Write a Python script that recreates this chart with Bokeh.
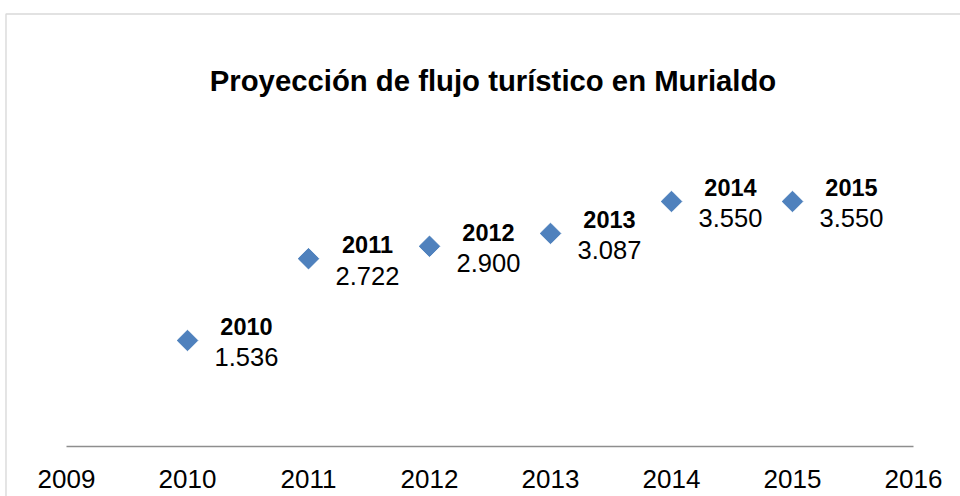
import math
from bokeh.plotting import figure
from bokeh.models import (ColumnDataSource, LinearAxis, FixedTicker, Range1d,
                          Label, BoxAnnotation)
from bokeh.core.properties import value
from bokeh.embed import file_html
from bokeh.resources import INLINE

# ---- data ----
title_text = "Proyección de flujo turístico en Murialdo"
years = [2010, 2011, 2012, 2013, 2014, 2015]
tourists = [1536, 2722, 2900, 3087, 3550, 3550]
tick_years = [2009, 2010, 2011, 2012, 2013, 2014, 2015, 2016]

value_labels = [f"{v:,}".replace(",", ".") for v in tourists]
year_labels = [str(y) for y in years]

W, H = 960, 496
# layout of the plot area in pixels (styles)
X_LEFT_PX, X_STEP_PX = 66.0, 121.0      # pixel of first tick, pixels per year
Y_ZERO_PX, Y_SCALE = 446.0, 139.0 / 2014.0  # pixel of zero, pixels per unit

x0 = tick_years[0] - X_LEFT_PX / X_STEP_PX
x1 = tick_years[0] + (W - X_LEFT_PX) / X_STEP_PX
y1 = Y_ZERO_PX / Y_SCALE
y0 = -(H - Y_ZERO_PX) / Y_SCALE


def px2x(px):
    return x0 + px / X_STEP_PX


def py2y(py):
    return (Y_ZERO_PX - py) / Y_SCALE


p = figure(width=W, height=H, output_backend="svg", toolbar_location=None,
           x_axis_type=None, y_axis_type=None,
           x_range=Range1d(x0, x1), y_range=Range1d(y0, y1),
           min_border=0, min_border_left=0, min_border_right=0,
           min_border_top=0, min_border_bottom=0)
p.outline_line_color = None
p.background_fill_color = "white"
p.border_fill_color = "white"
p.xgrid.visible = False
p.ygrid.visible = False

# chart border (outer frame of the original chart)
p.add_layout(BoxAnnotation(left=px2x(5.5), right=px2x(1200), top=py2y(13.5),
                           bottom=py2y(800), fill_alpha=0,
                           line_color="#808080", line_width=1.4))

# x axis at value 0
xaxis = LinearAxis(fixed_location=0, ticker=FixedTicker(ticks=tick_years),
                   bounds=(tick_years[0], tick_years[-1]))
xaxis.axis_line_color = "#8E8E8E"
xaxis.axis_line_width = 1.6
xaxis.major_tick_line_color = None
xaxis.minor_tick_line_color = None
xaxis.major_label_standoff = 17
xaxis.major_label_text_font = "Liberation Sans"
xaxis.major_label_text_font_size = "26px"
xaxis.major_label_text_color = "#000000"
p.add_layout(xaxis, "below")

src = ColumnDataSource(dict(x=years, y=tourists, ylab=year_labels, vlab=value_labels))

p.scatter("x", "y", source=src, marker="square", size=14.5, angle=math.pi / 4,
          fill_color="#4F81BD", line_color="#4A7EBB", line_width=1)

p.text("x", "y", text="ylab", source=src, x_offset=59, y_offset=-14,
       text_align="center", text_baseline="middle",
       text_font=value("Liberation Sans"), text_font_style="bold",
       text_font_size="23.5px", text_color="#000000")
p.text("x", "y", text="vlab", source=src, x_offset=59, y_offset=17,
       text_align="center", text_baseline="middle",
       text_font=value("Liberation Sans"), text_font_style="normal",
       text_font_size="25.5px", text_color="#000000")

p.add_layout(Label(x=px2x(492.5), y=py2y(80), text=title_text,
                   text_align="center", text_baseline="middle",
                   text_font="Liberation Sans", text_font_style="bold",
                   text_font_size="29.3px", text_color="#000000"))

open("out.html", "w").write(file_html(p, INLINE))
